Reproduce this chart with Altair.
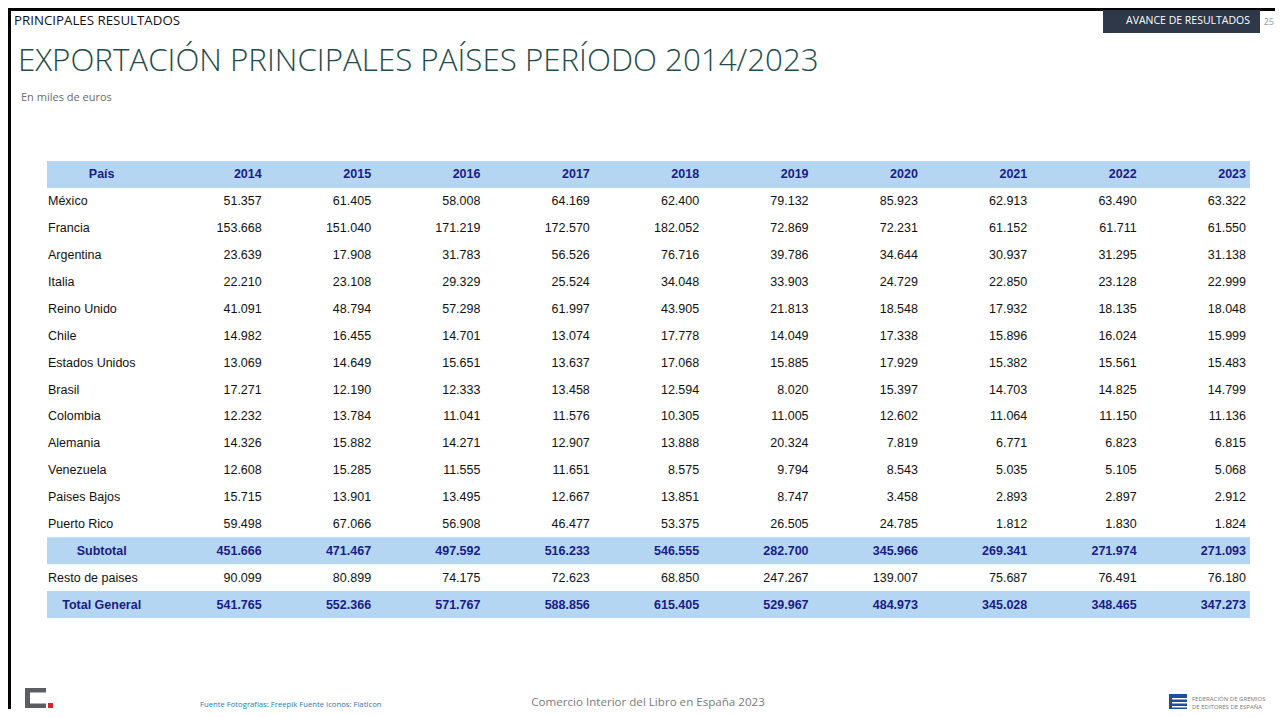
import altair as alt
import pandas as pd

# ---------------- data ----------------
years = ["2014", "2015", "2016", "2017", "2018", "2019", "2020", "2021", "2022", "2023"]
paises = ["México", "Francia", "Argentina", "Italia", "Reino Unido", "Chile",
          "Estados Unidos", "Brasil", "Colombia", "Alemania", "Venezuela",
          "Paises Bajos", "Puerto Rico"]

mexico = [51357, 61405, 58008, 64169, 62400, 79132, 85923, 62913, 63490, 63322]
francia = [153668, 151040, 171219, 172570, 182052, 72869, 72231, 61152, 61711, 61550]
argentina = [23639, 17908, 31783, 56526, 76716, 39786, 34644, 30937, 31295, 31138]
italia = [22210, 23108, 29329, 25524, 34048, 33903, 24729, 22850, 23128, 22999]
reino_unido = [41091, 48794, 57298, 61997, 43905, 21813, 18548, 17932, 18135, 18048]
chile = [14982, 16455, 14701, 13074, 17778, 14049, 17338, 15896, 16024, 15999]
estados_unidos = [13069, 14649, 15651, 13637, 17068, 15885, 17929, 15382, 15561, 15483]
brasil = [17271, 12190, 12333, 13458, 12594, 8020, 15397, 14703, 14825, 14799]
colombia = [12232, 13784, 11041, 11576, 10305, 11005, 12602, 11064, 11150, 11136]
alemania = [14326, 15882, 14271, 12907, 13888, 20324, 7819, 6771, 6823, 6815]
venezuela = [12608, 15285, 11555, 11651, 8575, 9794, 8543, 5035, 5105, 5068]
paises_bajos = [15715, 13901, 13495, 12667, 13851, 8747, 3458, 2893, 2897, 2912]
puerto_rico = [59498, 67066, 56908, 46477, 53375, 26505, 24785, 1812, 1830, 1824]
subtotal = [451666, 471467, 497592, 516233, 546555, 282700, 345966, 269341, 271974, 271093]
resto = [90099, 80899, 74175, 72623, 68850, 247267, 139007, 75687, 76491, 76180]
total = [541765, 552366, 571767, 588856, 615405, 529967, 484973, 345028, 348465, 347273]

country_values = [mexico, francia, argentina, italia, reino_unido, chile, estados_unidos,
                  brasil, colombia, alemania, venezuela, paises_bajos, puerto_rico]

HEADER = "País"
SUB = "Subtotal"
RESTO = "Resto de paises"
TOTAL = "Total General"
rows = [HEADER] + paises + [SUB, RESTO, TOTAL]
cols = [HEADER] + years
bold_rows = [HEADER, SUB, TOTAL]

def fmt(v):
    return f"{v:,}".replace(",", ".")

recs = []
for name, vals in list(zip(paises, country_values)) + [(SUB, subtotal), (RESTO, resto), (TOTAL, total)]:
    for y, v in zip(years, vals):
        recs.append({"fila": name, "col": y, "label": fmt(v), "bold": name in bold_rows})
for y in years:
    recs.append({"fila": HEADER, "col": y, "label": y, "bold": True})
cells = pd.DataFrame(recs)

names_left = pd.DataFrame({"fila": paises + [RESTO], "col": HEADER})
names_left["label"] = names_left["fila"]
names_center = pd.DataFrame({"fila": bold_rows, "col": HEADER})
names_center["label"] = names_center["fila"]
bands = pd.DataFrame({"fila": bold_rows})

# ---------------- layout ----------------
W, H = 1203, 457
HALF = W / len(cols) / 2
NAVY = "#1b1b87"
BAND = "#b4d6f3"
FONT = "Liberation Sans"
FS = 12.5
UI = "Open Sans"

xs = alt.Scale(domain=cols, paddingInner=0, paddingOuter=0)
ys = alt.Scale(domain=rows, paddingInner=0, paddingOuter=0)

band_layer = alt.Chart(bands).mark_rect(color=BAND).encode(
    y=alt.Y("fila:N", scale=ys, axis=None),
    x=alt.value(0), x2=alt.value(W),
)

num_normal = alt.Chart(cells[~cells["bold"]]).mark_text(
    align="right", baseline="middle", dx=HALF - 4, font=FONT, fontSize=FS, color="#111111"
).encode(
    x=alt.X("col:N", scale=xs, axis=None),
    y=alt.Y("fila:N", scale=ys, axis=None),
    text="label:N",
)
num_bold = alt.Chart(cells[cells["bold"]]).mark_text(
    align="right", baseline="middle", dx=HALF - 4, font=FONT, fontSize=FS, fontWeight="bold", color=NAVY
).encode(
    x=alt.X("col:N", scale=xs, axis=None),
    y=alt.Y("fila:N", scale=ys, axis=None),
    text="label:N",
)
name_l = alt.Chart(names_left).mark_text(
    align="left", baseline="middle", dx=-HALF + 1, font=FONT, fontSize=FS, color="#111111"
).encode(
    x=alt.X("col:N", scale=xs, axis=None),
    y=alt.Y("fila:N", scale=ys, axis=None),
    text="label:N",
)
name_c = alt.Chart(names_center).mark_text(
    align="center", baseline="middle", font=FONT, fontSize=FS, fontWeight="bold", color=NAVY
).encode(
    x=alt.X("col:N", scale=xs, axis=None),
    y=alt.Y("fila:N", scale=ys, axis=None),
    text="label:N",
)

# ---------------- slide decorations ----------------
OX, OY = 47, 161  # page position of plot origin

def txt(s, px, py, **kw):
    return alt.Chart(pd.DataFrame({"t": [s]})).mark_text(baseline="middle", **kw).encode(
        text="t:N", x=alt.value(px - OX), y=alt.value(py - OY))

def box(x1, y1, x2, y2, color):
    return alt.Chart(pd.DataFrame({"a": [0]})).mark_rect(color=color).encode(
        x=alt.value(x1 - OX), x2=alt.value(x2 - OX), y=alt.value(y1 - OY), y2=alt.value(y2 - OY))

LOGO = "#5a5d63"
deco = [
    box(8, 8, 1275, 11, "#000000"),
    box(8, 8, 11, 709, "#000000"),
    txt("PRINCIPALES RESULTADOS", 14, 21, align="left", font=UI, fontSize=13.3, color="#111111"),
    txt("EXPORTACIÓN PRINCIPALES PAÍSES PERÍODO 2014/2023", 18, 62, align="left", font=UI,
        fontSize=31.3, fontWeight=300, color="#1f4c4c"),
    txt("En miles de euros", 21, 98, align="left", font=UI, fontSize=11, color="#6b6b6b"),
    box(1103, 10, 1260, 33, "#2e3849"),
    txt("AVANCE DE RESULTADOS", 1250, 21, align="right", font=UI, fontSize=10.5, color="#ffffff"),
    txt("25", 1274, 22, align="right", font=UI, fontSize=9, color="#9a9a9a"),
    txt("Comercio Interior del Libro en España 2023", 648, 703, align="center", font=UI,
        fontSize=11.6, color="#7a7a7a"),
    txt("Fuente Fotografías: Freepik   Fuente Iconos: FlatIcon", 200, 705, align="left", font=UI,
        fontSize=7.7, color="#2e75b6"),
    # "C." logo
    box(25, 688, 46, 692.5, LOGO),
    box(25, 688, 30, 708, LOGO),
    box(25, 703.5, 46, 708, LOGO),
    box(48, 703, 53, 708, "#e0202a"),
    # federación logo
    box(1169, 694, 1187, 710, "#1e4f9c"),
    box(1172, 698, 1187, 699.5, "#ffffff"),
    box(1172, 702, 1187, 703.5, "#ffffff"),
    box(1172, 706, 1187, 707.5, "#ffffff"),
    txt("FEDERACIÓN DE GREMIOS", 1192, 699, align="left", font=UI, fontSize=6, color="#777777"),
    txt("DE EDITORES DE ESPAÑA", 1192, 706.5, align="left", font=UI, fontSize=6, color="#777777"),
]

chart = alt.layer(band_layer, num_normal, num_bold, name_l, name_c, *deco).properties(
    width=W, height=H,
    padding={"left": OX - 8, "top": OY - 8, "right": 1275 - (OX + W), "bottom": 709 - (OY + H)},
    autosize=alt.AutoSizeParams(type="none"),
    background="#ffffff",
).configure_view(stroke=None)

chart.save("out.html", embed_options={"renderer": "svg", "actions": False})
